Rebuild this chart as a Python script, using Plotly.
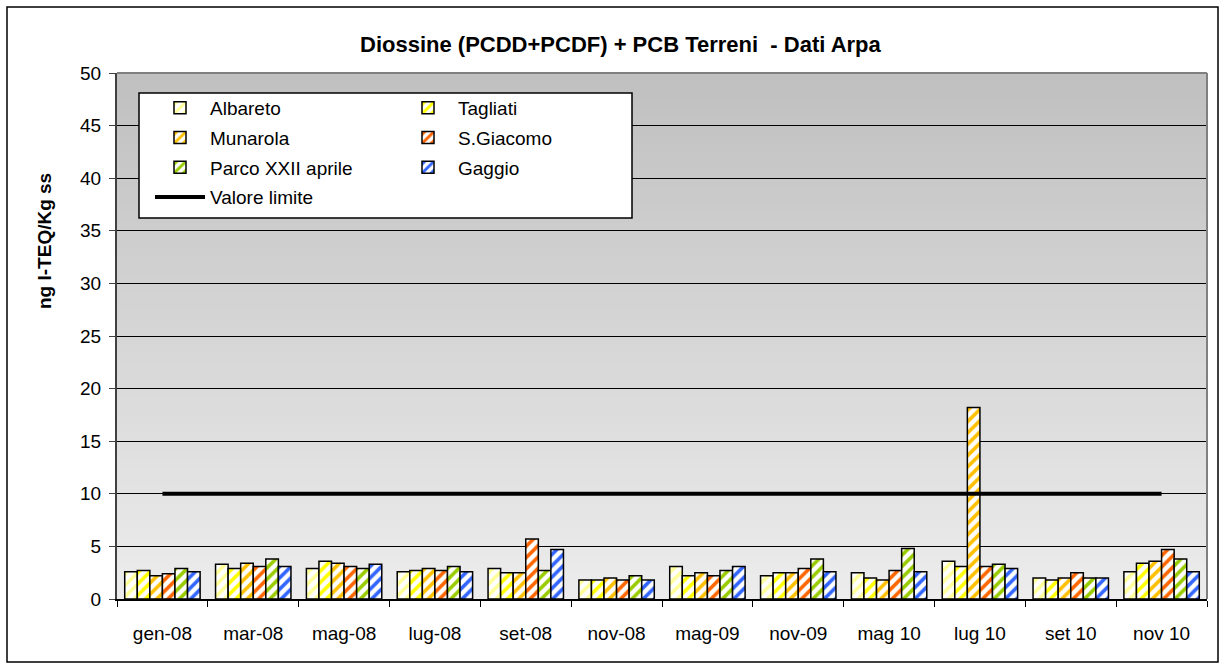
import plotly.graph_objects as go

# Sampling campaigns
campagne = ["gen-08", "mar-08", "mag-08", "lug-08", "set-08", "nov-08",
            "mag-09", "nov-09", "mag 10", "lug 10", "set 10", "nov 10"]

# Dioxins + PCB in soil, ng I-TEQ/Kg ss, per site
albareto   = [2.6, 3.3, 2.9, 2.6, 2.9, 1.8, 3.1, 2.2, 2.5, 3.6, 2.0, 2.6]
tagliati   = [2.7, 2.9, 3.6, 2.7, 2.5, 1.8, 2.2, 2.5, 2.0, 3.1, 1.8, 3.4]
munarola   = [2.2, 3.4, 3.4, 2.9, 2.5, 2.0, 2.5, 2.5, 1.8, 18.2, 2.0, 3.6]
s_giacomo  = [2.4, 3.1, 3.1, 2.7, 5.7, 1.8, 2.2, 2.9, 2.7, 3.1, 2.5, 4.7]
parco_xxii = [2.9, 3.8, 2.9, 3.1, 2.7, 2.2, 2.7, 3.8, 4.8, 3.3, 2.0, 3.8]
gaggio     = [2.6, 3.1, 3.3, 2.6, 4.7, 1.8, 3.1, 2.6, 2.6, 2.9, 2.0, 2.6]
valore_limite = 10

FONT = "Arial, Liberation Sans, sans-serif"

serie = [
    ("Albareto", albareto, "#ffff99", "legend"),
    ("Tagliati", tagliati, "#ffff00", "legend2"),
    ("Munarola", munarola, "#ffc000", "legend"),
    ("S.Giacomo", s_giacomo, "#ff6600", "legend2"),
    ("Parco XXII aprile", parco_xxii, "#99cc00", "legend"),
    ("Gaggio", gaggio, "#3366ff", "legend2"),
]

fig = go.Figure()
for nome, valori, colore, leg in serie:
    fig.add_trace(go.Bar(
        name=nome, x=campagne, y=valori, legend=leg, legendgroup=nome,
        marker=dict(
            color="white",
            line=dict(color="black", width=1.5),
            pattern=dict(shape="/", fgcolor=colore, bgcolor="white",
                         size=8, solidity=0.45, fillmode="replace"),
        ),
    ))

fig.add_trace(go.Scatter(
    name="Valore limite", x=campagne, y=[valore_limite] * len(campagne),
    mode="lines", line=dict(color="black", width=4),
    legend="legend", legendgroup="limite",
))

# Plot-area layout in pixels
W, H = 1224, 669
L, R, T, B = 117, 1207, 73, 599
pw, ph = R - L, B - T


def px(x):
    return (x - L) / pw


def py(y):
    return (B - y) / ph


shapes = []
# vertical grey gradient behind the plot area
n_bande = 60
c_top, c_bot = (192, 192, 192), (236, 236, 236)
for k in range(n_bande):
    f = k / (n_bande - 1)
    c = tuple(round(c_bot[j] + (c_top[j] - c_bot[j]) * f) for j in range(3))
    shapes.append(dict(type="rect", xref="paper", yref="paper",
                       x0=0, x1=1, y0=k / n_bande, y1=(k + 1) / n_bande + 0.002,
                       fillcolor="rgb(%d,%d,%d)" % c, line=dict(width=0),
                       layer="below"))
# top and right frame of the plot area
shapes.append(dict(type="line", xref="paper", yref="paper", x0=0, x1=1, y0=1, y1=1,
                   line=dict(color="#808080", width=2)))
shapes.append(dict(type="line", xref="paper", yref="paper", x0=1, x1=1, y0=0, y1=1,
                   line=dict(color="#808080", width=2)))
# outer chart border
shapes.append(dict(type="rect", xref="paper", yref="paper",
                   x0=px(7), x1=px(1218), y0=py(662), y1=py(7),
                   line=dict(color="black", width=1.5), fillcolor="rgba(0,0,0,0)"))
# legend box
shapes.append(dict(type="rect", xref="paper", yref="paper",
                   x0=px(139), x1=px(632), y0=py(218), y1=py(93),
                   line=dict(color="black", width=1.5), fillcolor="white",
                   layer="above"))

leg_common = dict(bgcolor="rgba(0,0,0,0)", borderwidth=0,
                  font=dict(family=FONT, size=19, color="black"),
                  xanchor="left", yanchor="top", tracegroupgap=2,
                  itemwidth=50, traceorder="grouped")

fig.update_layout(
    width=W, height=H,
    margin=dict(l=L, r=W - R, t=T, b=H - B),
    paper_bgcolor="white", plot_bgcolor="rgba(0,0,0,0)",
    barmode="group", bargap=0.17, bargroupgap=0,
    font=dict(family=FONT, size=19, color="black"),
    shapes=shapes,
    legend=dict(x=px(150), y=py(89), **leg_common),
    legend2=dict(x=px(398), y=py(89), **leg_common),
    annotations=[
        dict(text="<b>Diossine (PCDD+PCDF) + PCB Terreni  - Dati Arpa</b>",
             xref="paper", yref="paper", x=px(621), y=py(45),
             xanchor="center", yanchor="middle", showarrow=False,
             font=dict(family=FONT, size=22, color="black")),
        dict(text="<b>ng I-TEQ/Kg ss</b>", textangle=-90,
             xref="paper", yref="paper", x=px(45), y=py(241),
             xanchor="center", yanchor="middle", showarrow=False,
             font=dict(family=FONT, size=19, color="black")),
    ],
    xaxis=dict(type="category", showgrid=False, showline=True, linecolor="black",
               linewidth=1.5, ticks="outside", ticklen=6, tickcolor="black",
               tickson="boundaries", tickfont=dict(size=19), zeroline=False,
               ticklabelstandoff=16),
    yaxis=dict(range=[0, 50], dtick=5, showgrid=True, gridcolor="black",
               gridwidth=1, showline=True, linecolor="#404040", linewidth=2,
               ticks="outside", ticklen=6, tickcolor="#404040",
               tickfont=dict(size=19), zeroline=False, ticklabelstandoff=4),
)

fig.write_html("out.html")
